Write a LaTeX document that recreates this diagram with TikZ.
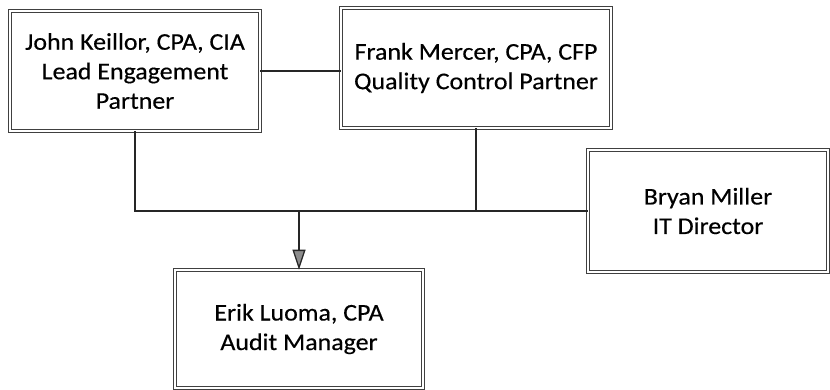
\documentclass[tikz,border=0pt]{standalone}
\usepackage{fontspec}
\setmainfont[FakeStretch=1.08,FakeBold=0.4]{Carlito}
\usetikzlibrary{arrows.meta}
\begin{document}
\begin{tikzpicture}[x=1pt,y=-1pt,
  box/.style={draw=black!75, double, double distance=2pt, line width=0.6pt,
    inner sep=0pt, align=center, font=\fontsize{24}{29.5}\selectfont},
  conn/.style={draw=black!85, line width=1.3pt},
  arr/.style={conn, -{Triangle[width=13pt,length=20pt,fill=black!45]}}]
\useasboundingbox (0,0) rectangle (830,389);
\node[box, minimum width=250pt, minimum height=120pt] (john) at (135,71)
  {John Keillor, CPA, CIA\\Lead Engagement\\Partner};
\node[box, minimum width=270pt, minimum height=120pt] (frank) at (476,68)
  {Frank Mercer, CPA, CFP\\Quality Control Partner};
\node[box, minimum width=240pt, minimum height=122pt] (bryan) at (708,211)
  {Bryan Miller\\IT Director};
\node[box, minimum width=248pt, minimum height=118pt] (erik) at (299,329)
  {Erik Luoma, CPA\\Audit Manager};
\draw[conn] (john.east) -- (john.east -| frank.west);
\draw[conn] (john.south) |- (bryan.west);
\draw[conn] (frank.south) -- (frank.south |- bryan.west);
\coordinate (j) at (erik.north |- bryan.west);
\draw[arr] (j) -- (erik.north);
\end{tikzpicture}
\end{document}
